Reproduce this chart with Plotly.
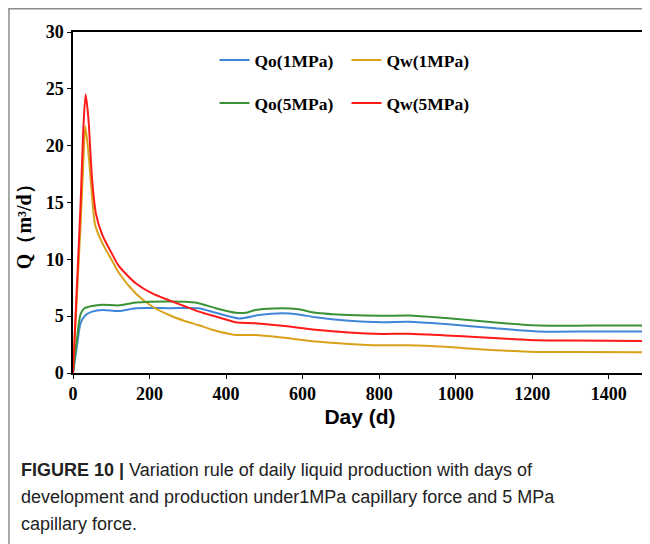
import plotly.graph_objects as go

# ---- data ----
qo1_day = [0, 10, 20, 33, 50, 77, 120, 164, 251, 328, 373, 434, 486, 547, 590, 634, 721, 808, 878, 974, 1104, 1218, 1350, 1500]
qo1_val = [0, 2.3, 4.4, 5.1, 5.4, 5.55, 5.45, 5.7, 5.7, 5.7, 5.3, 4.8, 5.1, 5.25, 5.15, 4.9, 4.6, 4.47, 4.5, 4.3, 3.94, 3.65, 3.65, 3.65]

qw1_day = [0, 10, 20, 27, 32, 40, 50, 58, 77, 100, 120, 164, 207, 251, 290, 329, 364, 425, 477, 547, 634, 721, 808, 878, 974, 1061, 1192, 1300, 1500]
qw1_val = [0, 6.6, 13.2, 18.5, 21.7, 19.5, 15.5, 13.0, 11.4, 10.0, 8.8, 7.0, 5.85, 5.1, 4.6, 4.2, 3.8, 3.35, 3.35, 3.12, 2.77, 2.56, 2.44, 2.44, 2.3, 2.09, 1.88, 1.85, 1.82]

qo5_day = [0, 10, 20, 30, 50, 77, 120, 164, 251, 320, 373, 425, 451, 477, 547, 590, 634, 721, 808, 878, 974, 1104, 1218, 1350, 1500]
qo5_val = [0, 2.9, 5.2, 5.7, 5.9, 6.0, 5.95, 6.2, 6.3, 6.2, 5.7, 5.3, 5.3, 5.55, 5.7, 5.6, 5.3, 5.1, 5.03, 5.06, 4.83, 4.44, 4.17, 4.17, 4.17]

qw5_day = [0, 10, 20, 27, 33, 40, 50, 60, 77, 100, 120, 164, 207, 251, 290, 329, 373, 425, 477, 547, 634, 721, 808, 878, 974, 1061, 1192, 1300, 1500]
qw5_val = [0, 7.5, 15.0, 21.5, 24.5, 22.5, 17.0, 14.0, 12.1, 10.6, 9.4, 7.9, 7.0, 6.4, 5.9, 5.4, 4.97, 4.47, 4.38, 4.15, 3.8, 3.56, 3.44, 3.45, 3.3, 3.15, 2.91, 2.85, 2.82]

x_ticks = [0, 200, 400, 600, 800, 1000, 1200, 1400]
y_ticks = [0, 5, 10, 15, 20, 25, 30]

caption_lines = [
    "<b>FIGURE 10 |</b> Variation rule of daily liquid production with days of",
    "development and production under1MPa capillary force and 5 MPa",
    "capillary force.",
]

# ---- figure ----
W, H = 650, 544
L, R, T, B = 65, 9, 24, 179
pw, ph = W - L - R, H - T - B

def px_x(p):
    return (p - L) / pw

def px_y(p):
    return (H - B - p) / ph

serif = "Times New Roman, Liberation Serif, serif"
sans = "Arial, Liberation Sans, sans-serif"

series = [
    ("Qo(1MPa)", qo1_day, qo1_val, "#3f85d8", "legend"),
    ("Qw(1MPa)", qw1_day, qw1_val, "#d9a11a", "legend"),
    ("Qo(5MPa)", qo5_day, qo5_val, "#3a9236", "legend2"),
    ("Qw(5MPa)", qw5_day, qw5_val, "#ff1a1a", "legend2"),
]

fig = go.Figure()
for name, xs, ys, col, lg in series:
    fig.add_trace(go.Scatter(
        x=xs, y=ys, name=name, mode="lines",
        line=dict(color=col, width=2, shape="spline", smoothing=0.7),
        legend=lg,
    ))

legend_common = dict(
    orientation="h", xanchor="left", yanchor="middle",
    bgcolor="rgba(0,0,0,0)", entrywidth=87, entrywidthmode="pixels",
    font=dict(family=serif, size=17.5, color="black", weight="bold"),
    itemwidth=30,
)

fig.update_layout(
    width=W, height=H,
    margin=dict(l=L, r=R, t=T, b=B),
    paper_bgcolor="white", plot_bgcolor="white",
    showlegend=True,
    legend=dict(x=px_x(207), y=px_y(52), **legend_common),
    legend2=dict(x=px_x(207), y=px_y(95), **legend_common),
    xaxis=dict(
        range=[0, 1500], tickvals=x_ticks, ticks="outside", ticklen=4,
        tickcolor="black", showline=True, linecolor="black", linewidth=1.5,
        mirror=True, showgrid=False, zeroline=False,
        tickfont=dict(family=serif, size=18, color="black", weight="bold"),
        title=dict(text="Day (d)", font=dict(family=sans, size=21, color="black", weight="bold"),
                   standoff=6),
    ),
    yaxis=dict(
        range=[0, 30], tickvals=y_ticks, ticks="outside", ticklen=4,
        tickcolor="black", showline=True, linecolor="black", linewidth=1.5,
        mirror=True, showgrid=False, zeroline=False,
        tickfont=dict(family=serif, size=18, color="black", weight="bold"),
    ),
)

# y-axis title
fig.add_annotation(
    xref="paper", yref="paper", x=px_x(16), y=px_y(214),
    xanchor="center", yanchor="middle", textangle=-90, showarrow=False,
    text="Q（m³/d）", font=dict(family=serif, size=20, color="black", weight="bold"),
)

# outer figure frame
fig.add_shape(type="rect", xref="paper", yref="paper",
              x0=px_x(0.75), x1=px_x(W - 0.75), y0=px_y(H - 0.75), y1=px_y(0.75),
              line=dict(color="#8c8c8c", width=1.5), fillcolor="rgba(0,0,0,0)", layer="below")

for i, line in enumerate(caption_lines):
    fig.add_annotation(
        xref="paper", yref="paper", x=px_x(11), y=px_y(462 + 27 * i),
        xanchor="left", yanchor="middle", align="left", showarrow=False,
        text=line,
        font=dict(family=sans, size=18, color="#222222"),
    )

fig.write_html("out.html")
